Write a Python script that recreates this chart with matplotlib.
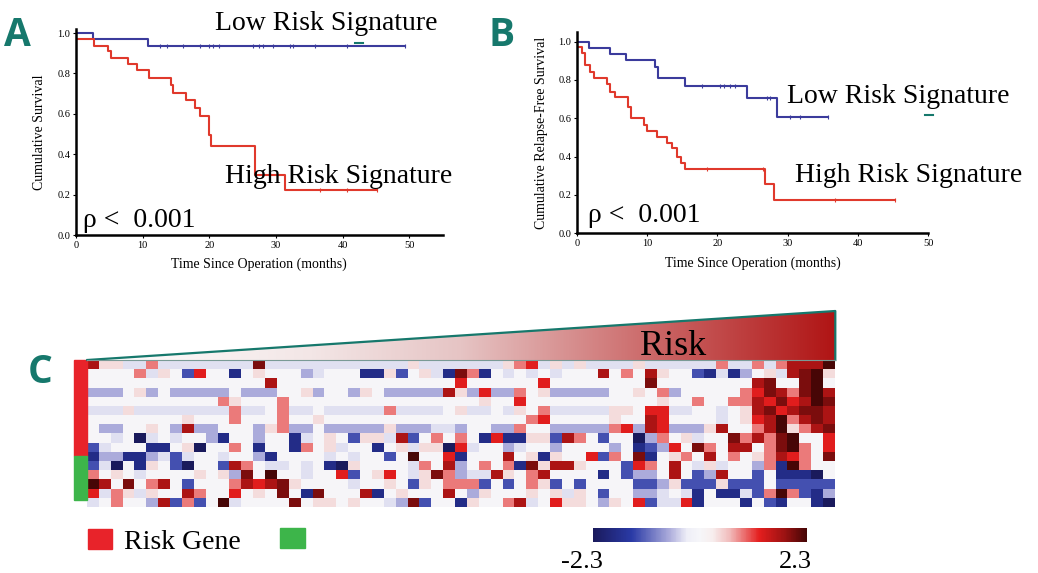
import numpy as np
import matplotlib
matplotlib.use("Agg")
import matplotlib.pyplot as plt
from matplotlib.colors import LinearSegmentedColormap, Normalize
from matplotlib.patches import Rectangle, Polygon
from matplotlib.lines import Line2D
import matplotlib.cm as cm

plt.rcParams['font.family'] = ['Liberation Serif', 'DejaVu Serif']

# ---- panel A: overall survival (Kaplan-Meier) ----
a_low_t = [0, 2.6, 10.8, 49.3]
a_low_s = [1.0, 0.970, 0.937, 0.937]
a_low_cens = [12.6, 13.6, 16.0, 18.6, 19.9, 20.6, 21.4, 26.6, 27.4, 28.1, 29.5,
              32.1, 32.6, 35.9, 40.6, 49.3]
a_high_t = [0, 2.7, 4.8, 5.3, 7.8, 9.2, 11.0, 14.2, 14.6, 16.5, 17.9, 18.6,
            19.9, 20.2, 26.9, 31.3, 45.1]
a_high_s = [0.970, 0.937, 0.909, 0.876, 0.846, 0.815, 0.777, 0.744, 0.702,
            0.669, 0.628, 0.587, 0.496, 0.443, 0.298, 0.223, 0.223]
a_high_cens = [36.6, 40.6, 45.1]

# ---- panel B: relapse-free survival ----
b_low_t = [0, 1.8, 4.7, 7.0, 11.1, 11.6, 15.4, 24.2, 28.5, 35.8]
b_low_s = [1.0, 0.969, 0.936, 0.904, 0.87, 0.809, 0.770, 0.708, 0.609, 0.609]
b_low_cens = [17.8, 20.4, 20.9, 21.8, 22.5, 27.0, 27.5, 30.3, 31.8, 35.8]
b_high_t = [0, 0.7, 1.2, 1.9, 2.5, 4.3, 4.7, 5.5, 7.3, 7.7, 9.5, 10.0, 11.4,
            12.8, 13.5, 14.2, 14.9, 15.4, 26.8, 28.1, 45.3]
b_high_s = [0.974, 0.939, 0.878, 0.843, 0.812, 0.779, 0.739, 0.713, 0.661,
            0.600, 0.565, 0.536, 0.504, 0.473, 0.443, 0.400, 0.369, 0.334,
            0.256, 0.174, 0.174]
b_high_cens = [18.5, 26.5, 36.7, 45.3]

# ---- panel C: expression heatmap (rows = genes, cols = patients by risk) ----
levels = {'N': -2.3, 'B': -1.8, 'b': -1.3, 'l': -0.65, 'v': -0.35, '.': 0.0,
          'p': 0.4, 'P': 0.9, 'r': 1.3, 'R': 1.7, 'D': 2.0, 'X': 2.3}
heat_rows = [
    "RppvvPvvvv" "vvvvDvvvvv" "vvvvvvvpvv" "vvvvvpPrvp" "vpvvvvpvvv" "vvvPvvPvPR" "RRX",
    "....Pvp.br" "..B.p...lv" "...BBpb.pv" "BDPB.v.v.v" "...R.P.Rp." ".bBvBl.pvR" "DXp",
    ".........." ".....R...." ".........." ".r......r." ".......D.." "......RD.." "DX.",
    "lll.pl.lll" "ll.lll..pl" "..lp.lllll" "RplrllP.pl" "llll..p.Pl" ".....PrDRP" "DXR",
    ".........." ".Pp...P..." ".........." "...p..r..." "........p." ".P..PPRrDr" "RXD",
    "vvvpvvvvvv" "vvPvv.Pvv." "vvvvvPvvvv" ".pvv.vp.Pv" "vvvvpp.rrv" "v..v.pRDrR" "DDR",
    "........p." "..P...P..p" ".........." ".......Pr." "....p..Rr." "...v.prRXP" "RDR",
    ".ll..p.lRl" "l...lpPll." "lllllplllv" "vl..llP..l" "llllPrlRrl" "llpR..PRXp" "PRD",
    "..v.Nv.v.." "lB..l..Bv." "p.bppvRb.P" ".P.BrBBppb" "RP.b..NlP." "pv..DPRPDX" "..r",
    "bv...BB.pN" "..P.B..BP." "pv..B.pvpp" "Nrv..lv..l" "....l.Bblr" ".DP.RR.PDX" "P.r",
    "BllBBlvbv." ".v..lB...." "v.v..b.X.." "rB...R.pBp" "..rbP.DB.p" "P.R.P.pPRr" "P.D",
    "bvN.Bp.bN." ".bRP.vv.v." "BNp....vP." "Rl.P.PBDpR" "Rp...brP.R" ".vpv..lPBX" "P..",
    "P.p.v....p" ".plD.X..v." ".rb.pr.vpD" "PlvvRp.PR." "...B.bll.R" ".blR..b.BB" "BN.",
    "XR.D.PR.b." "..PRrRDp.." "..v..p.bp." "PPPb.b.Ppb" ".b....bblp" "bbbpbbb.bb" "bbb",
    "rvPpvp..RP" "..r.p.D.BD" "...RB.p..." "R.lp...p.p" "vp.b..llv." "vB.BBvbPXP" "bBl",
    "v.P..lRbPb" ".Xv....D.p" "p.p..vlDb." ".Bp..PRv.r" "pp.lp.rbvv" "rB...B.bB." ".BN",
]
cbar_min, cbar_max = -2.3, 2.3

heat = np.array([[levels[c] for c in row] for row in heat_rows])

teal = '#16786c'
blue = '#3b3b9c'
red = '#e0392c'

fig = plt.figure(figsize=(10.38, 5.73), dpi=100)
W, H = 1038.0, 573.0


def fbox(x0, y0, x1, y1):
    # pixel box (top-left origin) -> figure fraction rect
    return [x0 / W, 1 - y1 / H, (x1 - x0) / W, (y1 - y0) / H]


def km(ax, t, s, cens, color):
    ax.step(t, s, where='post', color=color, lw=1.5)
    cy = [s[np.searchsorted(t, c, side='right') - 1] for c in cens]
    ax.plot(cens, cy, ls='none', marker='|', ms=3.5, mew=0.8, color=color)


def style(ax):
    for sp in ['top', 'right']:
        ax.spines[sp].set_visible(False)
    for sp in ['left', 'bottom']:
        ax.spines[sp].set_linewidth(1.8)
    ax.tick_params(direction='out', length=2.5, width=0.8, labelsize=7.5, pad=1.5)


axA = fig.add_axes(fbox(76, 29, 442.6, 235))
km(axA, a_low_t, a_low_s, a_low_cens, blue)
km(axA, a_high_t, a_high_s, a_high_cens, red)
axA.set_xlim(0, 55)
axA.set_ylim(0, 1.02)
axA.set_xticks([0, 10, 20, 30, 40, 50])
axA.set_yticks([0, 0.2, 0.4, 0.6, 0.8, 1.0])
axA.yaxis.set_major_formatter(plt.FormatStrFormatter('%.1f'))
axA.set_xlabel('Time Since Operation (months)', fontsize=10, labelpad=6)
axA.set_ylabel('Cumulative Survival', fontsize=10, labelpad=8)
style(axA)

axB = fig.add_axes(fbox(576.7, 31.7, 928.3, 233.3))
km(axB, b_low_t, b_low_s, b_low_cens, blue)
km(axB, b_high_t, b_high_s, b_high_cens, red)
axB.set_xlim(0, 50)
axB.set_ylim(0, 1.052)
axB.set_xticks([0, 10, 20, 30, 40, 50])
axB.set_yticks([0, 0.2, 0.4, 0.6, 0.8, 1.0])
axB.yaxis.set_major_formatter(plt.FormatStrFormatter('%.1f'))
axB.set_xlabel('Time Since Operation (months)', fontsize=10, labelpad=6)
axB.set_ylabel('Cumulative Relapse-Free Survival', fontsize=10, labelpad=7)
style(axB)


def ftext(x, y, s, **kw):
    fig.text(x / W, 1 - y / H, s, **kw)


big = dict(fontsize=20, va='baseline', ha='left')
ftext(215, 30, 'Low Risk Signature', **big)
ftext(225, 183, 'High Risk Signature', **big)
ftext(83, 227, 'ρ <  0.001', **big)
ftext(787, 103, 'Low Risk Signature', **big)
ftext(795, 182, 'High Risk Signature', **big)
ftext(588, 222, 'ρ <  0.001', **big)

letter = dict(family='Open Sans', weight='bold', color=teal, fontsize=28,
              va='baseline', ha='left')
ftext(4, 46, 'A', **letter)
ftext(488, 46, 'B', **letter)
ftext(28, 383, 'C', **letter)

for (x0, x1, y) in [(355, 363, 43), (925, 933, 115)]:
    fig.add_artist(Line2D([x0 / W, x1 / W], [1 - y / H, 1 - y / H],
                          color=teal, lw=1.5, transform=fig.transFigure))

# heatmap
hm_cmap = LinearSegmentedColormap.from_list('hm', [
    (0.0, '#1a1a5c'), (0.18, '#2a3aa6'), (0.36, '#aeaedc'), (0.44, '#eeeef7'),
    (0.5, '#f6f6f9'), (0.56, '#f7eeee'), (0.64, '#f1bcbc'), (0.78, '#e41e1e'),
    (0.9, '#9b1212'), (1.0, '#470606')])
axH = fig.add_axes(fbox(87.3, 360, 835.3, 506.7))
axH.imshow(heat, cmap=hm_cmap, vmin=cbar_min, vmax=cbar_max, aspect='auto',
           interpolation='nearest')
axH.axis('off')
axH.add_patch(Rectangle((-13 / 748, 0.3456), 13 / 748, 1 - 0.3456,
                        transform=axH.transAxes, color='#e8232a', clip_on=False))
axH.add_patch(Rectangle((-13 / 748, 0.0457), 13 / 748, 0.3456 - 0.0457,
                        transform=axH.transAxes, color='#3db54a', clip_on=False))

# risk wedge
axT = fig.add_axes(fbox(87.3, 311, 835.3, 360))
axT.set_xlim(0, 1)
axT.set_ylim(0, 1)
axT.axis('off')
grad_cmap = LinearSegmentedColormap.from_list('risk', [
    (0.0, '#ffffff'), (0.3, '#f3e6e6'), (0.5, '#e6c4c4'), (0.75, '#cc6a6a'),
    (1.0, '#b01515')])
g = axT.imshow(np.linspace(0, 1, 256)[None, :], cmap=grad_cmap, extent=(0, 1, 0, 1),
               aspect='auto')
tri = Polygon([(0, 0), (1, 1), (1, 0)], closed=True, transform=axT.transData,
              facecolor='none', edgecolor='none')
axT.add_patch(tri)
g.set_clip_path(tri)
axT.plot([0, 1, 1], [0, 1, 0], color=teal, lw=1.6, clip_on=False)
axT.plot([0, 1], [0, 0], color='#7a9a96', lw=0.8, clip_on=False)
axT.text(0.783, 0.1, 'Risk', fontsize=26, ha='center', va='baseline')

# legend
fig.add_artist(Rectangle((88 / W, 1 - 549 / H), 24 / W, 20 / H, color='#e8232a',
                         transform=fig.transFigure))
ftext(124, 549, 'Risk Gene', fontsize=20, va='baseline', ha='left')
fig.add_artist(Rectangle((280 / W, 1 - 548 / H), 25 / W, 20 / H, color='#3db54a',
                         transform=fig.transFigure))

# colour scale
cax = fig.add_axes(fbox(593, 528, 806.5, 541.5))
cb = fig.colorbar(cm.ScalarMappable(norm=Normalize(cbar_min, cbar_max), cmap=hm_cmap),
                  cax=cax, orientation='horizontal')
cb.set_ticks([])
cb.outline.set_visible(False)
ftext(582, 568, '%.1f' % cbar_min, fontsize=19, ha='center', va='baseline')
ftext(795, 568, '%.1f' % cbar_max, fontsize=19, ha='center', va='baseline')

fig.savefig('out.png', dpi=100)
